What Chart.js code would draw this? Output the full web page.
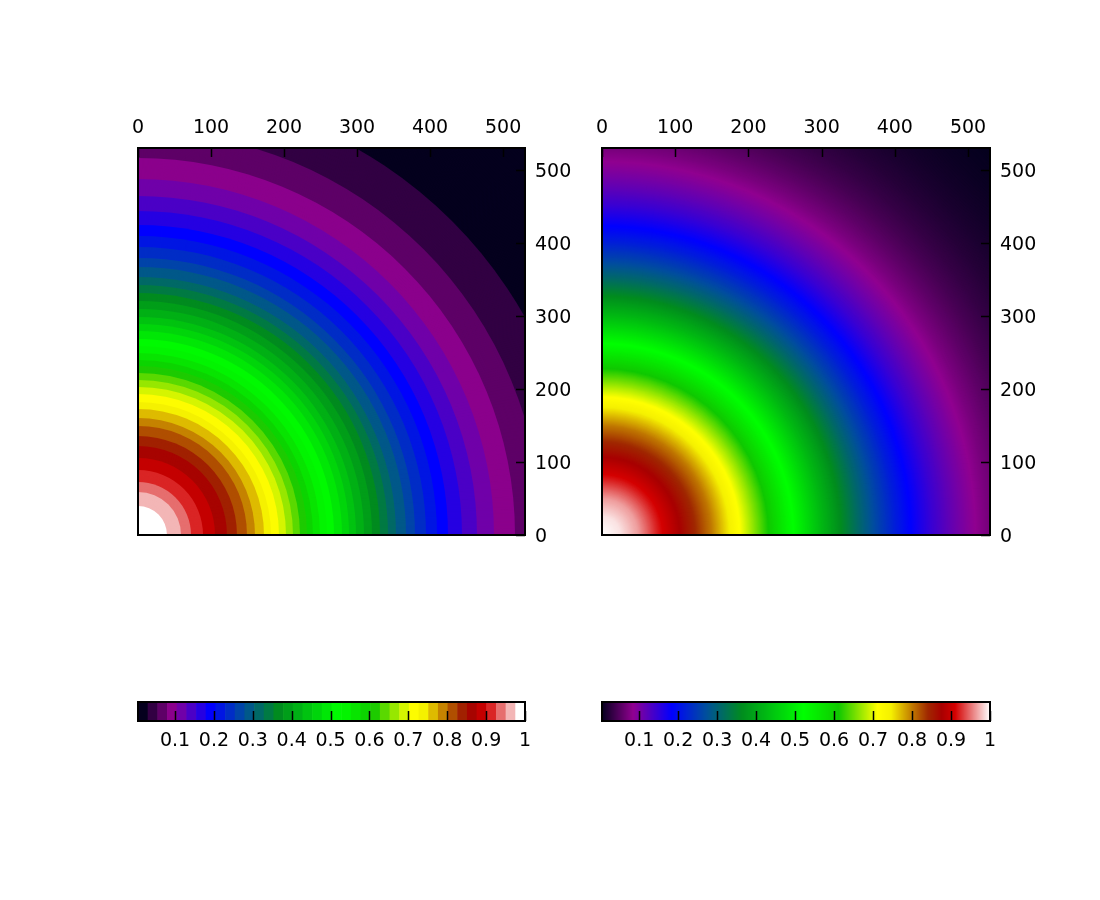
<!DOCTYPE html>
<html>
<head>
<meta charset="utf-8">
<script src="https://cdn.jsdelivr.net/npm/chart.js@4.4.0/dist/chart.umd.min.js"></script>
<style>
    html, body { margin: 0; padding: 0; background: #fff; }
    #wrap { position: relative; width: 1100px; height: 900px; }
    #wrap canvas { position: absolute; left: 0; top: 0; }
</style>
</head>
<body>
<div id="wrap">
    <canvas id="mapLeft" width="1100" height="900"></canvas>
    <canvas id="mapRight" width="1100" height="900"></canvas>
    <canvas id="barLeft" width="1100" height="900"></canvas>
    <canvas id="barRight" width="1100" height="900"></canvas>
</div>
<script>
// radial profile of the field (distance from the origin -> value)
const profileR = [0, 25, 50, 75, 100, 125, 150, 175, 200, 225, 250, 275, 300, 325, 350, 375,
    400, 425, 450, 475, 500, 525, 550, 575, 600, 625, 650, 675, 700, 725, 750];
const profileV = [1, 0.99, 0.965, 0.922, 0.885, 0.845, 0.80, 0.745, 0.683, 0.618, 0.551, 0.487,
    0.424, 0.366, 0.311, 0.262, 0.218, 0.179, 0.145, 0.117, 0.0925, 0.0724, 0.0561, 0.0429,
    0.0324, 0.0242, 0.0179, 0.0130, 0.0094, 0.0067, 0.0047];

// axes
const axisMax = 530;
const axisTicks = [0, 100, 200, 300, 400, 500];
const cbMin = 0.0047;
const cbTicks = [0.1, 0.2, 0.3, 0.4, 0.5, 0.6, 0.7, 0.8, 0.9, 1];
const cbLabels = ['0.1', '0.2', '0.3', '0.4', '0.5', '0.6', '0.7', '0.8', '0.9', '1'];
const levelsLeft = 40;

// colour palette
const paletteStops = [0, 0.08, 0.18, 0.27, 0.36, 0.52, 0.61, 0.71, 0.745, 0.80, 0.84, 0.875, 0.91, 1];
const paletteColors = ['#05001e', '#900090', '#0000ff', '#00509a', '#008c1e', '#00ff00', '#10c800',
    '#ffff00', '#f5f000', '#c07800', '#a02800', '#a80000', '#d40000', '#ffffff'];

const FONT = { family: 'DejaVu Sans', size: 19 };

function hexToRgb(h) {
    return [parseInt(h.substr(1, 2), 16), parseInt(h.substr(3, 2), 16), parseInt(h.substr(5, 2), 16)];
}
const paletteRgb = paletteColors.map(hexToRgb);

function paletteColor(t) {
    t = Math.max(0, Math.min(1, t));
    let i = 0;
    while (i < paletteStops.length - 2 && t > paletteStops[i + 1]) i++;
    const f = (t - paletteStops[i]) / (paletteStops[i + 1] - paletteStops[i]);
    const a = paletteRgb[i], b = paletteRgb[i + 1];
    return 'rgb(' + Math.round(a[0] + (b[0] - a[0]) * f) + ',' + Math.round(a[1] + (b[1] - a[1]) * f) + ',' + Math.round(a[2] + (b[2] - a[2]) * f) + ')';
}

function profileAt(r) {
    if (r <= profileR[0]) return profileV[0];
    for (let i = 1; i < profileR.length; i++) {
        if (r <= profileR[i]) {
            const f = (r - profileR[i - 1]) / (profileR[i] - profileR[i - 1]);
            return profileV[i - 1] + (profileV[i] - profileV[i - 1]) * f;
        }
    }
    return profileV[profileV.length - 1];
}

function toT(v, levels) {
    let t = (v - cbMin) / (1 - cbMin);
    if (levels) {
        const k = Math.max(0, Math.min(levels - 1, Math.floor(t * levels)));
        t = k / (levels - 1);
    }
    return t;
}

// heat map drawn through the chart's x / y scales
const heatmapPlugin = {
    id: 'heatmap',
    beforeDatasetsDraw(chart, args, opts) {
        const { ctx, chartArea: a, scales: { x, y } } = chart;
        const x0 = x.getPixelForValue(0), y0 = y.getPixelForValue(0);
        const pxPerUnit = (x.getPixelForValue(axisMax) - x0) / axisMax;
        ctx.save();
        ctx.beginPath();
        ctx.rect(a.left, a.top, a.width, a.height);
        ctx.clip();
        const rMax = Math.ceil(Math.hypot(a.width, a.height)) + 2;
        for (let r = rMax; r > 0; r--) {
            const v = profileAt((r - 0.5) / pxPerUnit);
            ctx.fillStyle = paletteColor(toT(v, opts.levels));
            ctx.beginPath();
            ctx.arc(x0, y0, r, 0, 2 * Math.PI);
            ctx.fill();
        }
        ctx.restore();
    },
    afterDraw(chart) {
        const { ctx, chartArea: a, scales: { x, y } } = chart;
        ctx.save();
        ctx.strokeStyle = '#000';
        ctx.lineWidth = 1.5;
        ctx.beginPath();
        x.ticks.forEach(t => {
            const px = Math.round(x.getPixelForValue(t.value)) + 0.5;
            ctx.moveTo(px, a.top); ctx.lineTo(px, a.top + 9);
        });
        y.ticks.forEach(t => {
            const py = Math.round(y.getPixelForValue(t.value)) + 0.5;
            ctx.moveTo(a.right, py); ctx.lineTo(a.right - 9, py);
        });
        ctx.stroke();
        ctx.lineWidth = 2;
        ctx.strokeRect(a.left, a.top, a.width, a.height);
        ctx.restore();
    }
};

// colour box drawn through the chart's x scale
const colorbarPlugin = {
    id: 'colorbar',
    beforeDatasetsDraw(chart, args, opts) {
        const { ctx, chartArea: a, scales: { x } } = chart;
        ctx.save();
        if (opts.levels) {
            const step = (1 - cbMin) / opts.levels;
            for (let k = 0; k < opts.levels; k++) {
                const p1 = x.getPixelForValue(cbMin + k * step);
                const p2 = x.getPixelForValue(cbMin + (k + 1) * step);
                ctx.fillStyle = paletteColor(k / (opts.levels - 1));
                ctx.fillRect(p1, a.top, p2 - p1 + 0.6, a.height);
            }
        } else {
            for (let px = Math.floor(a.left); px < a.right; px++) {
                const v = x.getValueForPixel(px + 0.5);
                ctx.fillStyle = paletteColor(toT(v, 0));
                ctx.fillRect(px, a.top, 1, a.height);
            }
        }
        ctx.strokeStyle = '#000';
        ctx.lineWidth = 1.5;
        ctx.beginPath();
        x.ticks.forEach(t => {
            const px = Math.round(x.getPixelForValue(t.value)) + 0.5;
            ctx.moveTo(px, a.bottom); ctx.lineTo(px, a.bottom - 10);
        });
        ctx.stroke();
        ctx.lineWidth = 2;
        ctx.strokeRect(a.left, a.top, a.width, a.height);
        ctx.restore();
    }
};

function makeMap(id, left, right, levels) {
    return new Chart(document.getElementById(id), {
        type: 'scatter',
        data: { datasets: [{ data: [] }] },
        options: {
            responsive: false, animation: false,
            layout: { padding: { left: left, top: 100, right: 1100 - right - 60, bottom: 900 - 535 } },
            plugins: { legend: { display: false }, tooltip: { enabled: false }, heatmap: { levels: levels } },
            scales: {
                x: {
                    type: 'linear', position: 'top', min: 0, max: axisMax,
                    afterBuildTicks: s => { s.ticks = axisTicks.map(v => ({ value: v })); },
                    afterFit: s => { s.height = 48; },
                    grid: { display: false, drawTicks: false }, border: { display: false },
                    ticks: { font: FONT, color: '#000', padding: 9, maxRotation: 0, autoSkip: false, callback: v => String(v) }
                },
                y: {
                    type: 'linear', position: 'right', min: 0, max: axisMax,
                    afterBuildTicks: s => { s.ticks = axisTicks.map(v => ({ value: v })); },
                    afterFit: s => { s.width = 60; },
                    grid: { display: false, drawTicks: false }, border: { display: false },
                    ticks: { font: FONT, color: '#000', padding: 10, labelOffset: 2, autoSkip: false, callback: v => String(v) }
                }
            }
        },
        plugins: [heatmapPlugin]
    });
}

function makeBar(id, left, right, levels) {
    return new Chart(document.getElementById(id), {
        type: 'scatter',
        data: { datasets: [{ data: [] }] },
        options: {
            responsive: false, animation: false,
            layout: { padding: { left: left, top: 702, right: 1100 - right, bottom: 900 - 721 - 40 } },
            plugins: { legend: { display: false }, tooltip: { enabled: false }, colorbar: { levels: levels } },
            scales: {
                x: {
                    type: 'linear', position: 'bottom', min: cbMin, max: 1,
                    afterBuildTicks: s => { s.ticks = cbTicks.map(v => ({ value: v })); },
                    afterFit: s => { s.height = 40; },
                    grid: { display: false, drawTicks: false }, border: { display: false },
                    ticks: { font: FONT, color: '#000', padding: 9, maxRotation: 0, autoSkip: false,
                        callback: (v, i) => cbLabels[i] }
                },
                y: { type: 'linear', display: false, min: 0, max: 1 }
            }
        },
        plugins: [colorbarPlugin]
    });
}

makeMap('mapLeft', 138, 525, levelsLeft);
makeMap('mapRight', 602, 990, 0);
makeBar('barLeft', 138, 525, levelsLeft);
makeBar('barRight', 602, 990, 0);
</script>
</body>
</html>
